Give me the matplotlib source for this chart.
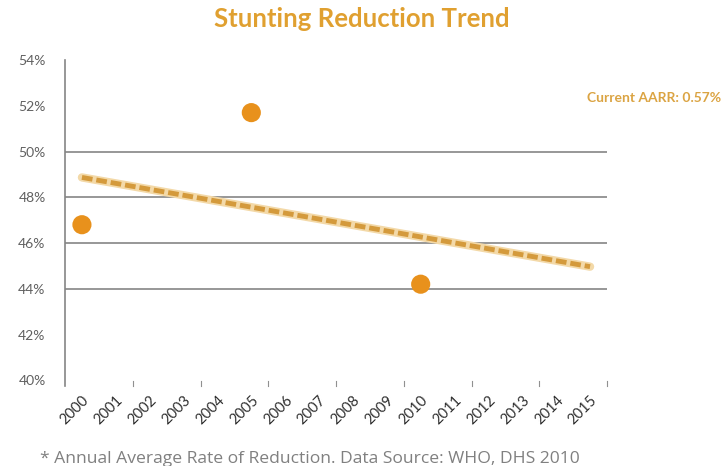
import numpy as np
import matplotlib
matplotlib.use('Agg')
import matplotlib.pyplot as plt

# survey years and stunting prevalence (%)
years = [2000, 2005, 2010]
stunting = [46.8, 51.7, 44.2]

# axis categories
year_labels = [str(y) for y in range(2000, 2016)]
y_ticks = [40, 42, 44, 46, 48, 50, 52, 54]
grid_levels = [44, 46, 48, 50]

aarr_text = 'Current AARR: 0.57%'
title = 'Stunting Reduction Trend'
footnote = '* Annual Average Rate of Reduction. Data Source: WHO, DHS 2010'

fig = plt.figure(figsize=(7.23, 4.66), dpi=100)
ax = fig.add_axes([65 / 723, 1 - 386 / 466, (607 - 65) / 723, (386 - 60) / 466])

# linear trend through the survey points, drawn 2000-2015
slope, intercept = np.polyfit(years, stunting, 1)
trend_x = np.array([2000, 2015])
trend_y = slope * trend_x + intercept
ax.plot(trend_x, trend_y, color='#f3d9a8', lw=6, solid_capstyle='round', zorder=2)
ax.plot(trend_x, trend_y, color='#d49a3c', lw=3.5, ls=(0, (2.2, 0.8)), zorder=3)

ax.scatter(years, stunting, s=190, color='#e8911c', edgecolor='none', zorder=4)

for g in grid_levels:
    ax.axhline(g, color='#858585', lw=1.2, zorder=1)

ax.set_xlim(1999.5, 2015.5)
ax.set_ylim(39.75, 54)
ax.set_yticks(y_ticks)
ax.set_yticklabels([f'{v}%' for v in y_ticks], fontsize=10, color='#606060',
                   family='Lato')
ax.set_xticks(range(2000, 2016))
ax.set_xticklabels(year_labels, rotation=45, ha='right', rotation_mode='anchor',
                   fontsize=10.5, color='#303030', family='Lato')
ax.tick_params(axis='x', length=0, pad=5)
ax.tick_params(axis='y', length=0, pad=14)
# small marks every two years just under the baseline
for xm in np.arange(2001.5, 2016, 2):
    ax.plot([xm, xm], [39.98, 39.75], color='#909090', lw=0.8, clip_on=False)

for side in ['top', 'right', 'bottom']:
    ax.spines[side].set_visible(False)
ax.spines['left'].set_color('#858585')
ax.spines['left'].set_linewidth(1.2)

fig.text(0.5, 1 - 19 / 466, title, ha='center', va='center', fontsize=18.5,
         fontweight='bold', color='#e0a030', family='Lato')
fig.text(1 - 2 / 723, 1 - 98 / 466, aarr_text, ha='right', va='center', fontsize=10,
         fontweight='bold', color='#dba443', family='Lato')
fig.text(40 / 723, 1 - 459 / 466, footnote, ha='left', va='center', fontsize=12.6,
         color='#808080', family='Open Sans')

fig.savefig('out.png', dpi=100, facecolor='white')
